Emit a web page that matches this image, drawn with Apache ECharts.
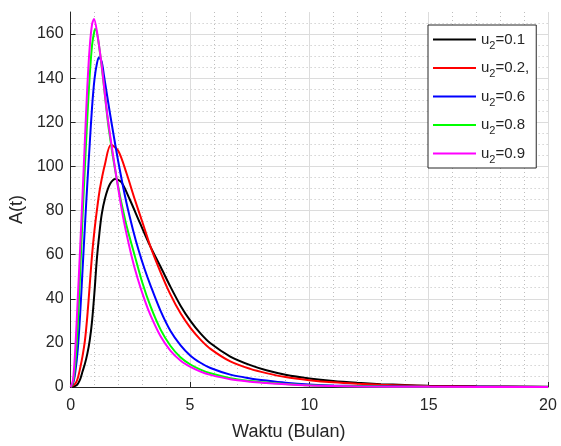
<!DOCTYPE html>
<html>
<head>
<meta charset="utf-8">
<script src="https://cdn.jsdelivr.net/npm/echarts@6/dist/echarts.min.js"></script>
<style>
  html, body { margin: 0; padding: 0; background: #ffffff; }
  #chart { width: 561px; height: 446px; }
</style>
</head>
<body>
<div id="chart"></div>
<script>
// A(t) over time (months) for several values of u2: [t, A] pairs
const curveU01 = [[0,0],[0.25,0.8],[0.4,3.5],[0.5,7],[0.6,10.5],[0.7,15],[0.8,21],[0.9,30],[1.0,43],[1.1,58],[1.2,69],[1.3,78],[1.44,85.5],[1.65,92],[1.88,94.3],[2.13,92.8],[2.48,85],[2.9,74.5],[3.35,63.5],[3.77,54.5],[4.18,45.5],[4.6,37],[5.02,30],[5.44,24.3],[5.86,19.8],[6.69,13.8],[7.53,9.9],[8.2,7.6],[9,5.6],[10,3.9],[11,2.7],[12,1.9],[13,1.3],[14,0.9],[15,0.6],[17,0.3],[20,0.1]];
const curveU02 = [[0,0],[0.2,1.5],[0.3,4],[0.4,8.5],[0.5,14],[0.6,21],[0.7,32],[0.8,46],[0.9,60],[1.0,71],[1.1,80],[1.23,90],[1.44,101],[1.69,109.8],[2.0,107],[2.34,97],[2.69,85],[3.03,74],[3.35,63.5],[3.77,52],[4.18,42],[4.6,33.5],[5.02,26.8],[5.44,21.5],[5.86,17.3],[6.69,11.6],[7.53,8.2],[8.2,6.3],[9,4.5],[10,3.1],[11,2.1],[12,1.45],[13,1.0],[14,0.7],[15,0.45],[17,0.2],[20,0.05]];
const curveU06 = [[0,0],[0.1,1.5],[0.2,7],[0.3,17],[0.4,33],[0.5,53],[0.6,73],[0.7,92],[0.8,110],[0.9,127],[1.0,139.5],[1.1,146.5],[1.19,149.5],[1.3,147.5],[1.4,141],[1.65,124],[2.0,102],[2.34,83.5],[2.62,71],[2.85,62],[3.1,53.5],[3.35,46],[3.77,34.5],[4.18,25.5],[4.6,19],[5.02,14.2],[5.44,11],[5.86,8.6],[6.69,5.6],[7.53,3.9],[8.2,2.9],[9,1.9],[10,1.1],[11,0.7],[12,0.45],[13,0.3],[15,0.12],[20,0.02]];
const curveU08 = [[0,0],[0.1,2],[0.2,11],[0.3,28],[0.4,52],[0.5,77],[0.6,100],[0.7,122],[0.8,141],[0.9,155],[1.0,161.5],[1.05,162.3],[1.2,154],[1.37,139],[1.6,117],[1.92,95],[2.3,75],[2.65,61],[3.0,47.5],[3.35,36.5],[3.77,26],[4.18,18.7],[4.6,13.5],[5.02,10.2],[5.44,7.9],[5.86,6.2],[6.69,4],[7.53,2.7],[8.2,2],[9,1.4],[10,0.8],[11,0.5],[12,0.3],[15,0.08],[20,0.01]];
const curveU09 = [[0,0],[0.1,3],[0.2,18],[0.3,40],[0.4,63],[0.5,87],[0.6,112],[0.7,136],[0.8,154],[0.9,164.5],[0.98,166.8],[1.12,160],[1.3,146],[1.53,124],[1.85,100],[2.2,77],[2.54,60],[2.8,49.5],[3.1,39.5],[3.35,32.5],[3.77,23],[4.18,16.5],[4.6,12],[5.02,9.1],[5.44,7],[5.86,5.5],[6.69,3.5],[7.53,2.4],[8.2,1.8],[9,1.2],[10,0.7],[11,0.45],[12,0.28],[15,0.07],[20,0.01]];

const u2Values = ['0.1', '0.2,', '0.6', '0.8', '0.9'];
const curveColors = ['#000000', '#ff0000', '#0000ff', '#00ff00', '#ff00ff'];
const curves = [curveU01, curveU02, curveU06, curveU08, curveU09];

const xTicks = { min: 0, max: 20, step: 5, minorStep: 1 };
const yTicks = { min: 0, max: 170, step: 20, minorStep: 5 };

const FONT = "'Liberation Sans', Arial, Helvetica, sans-serif";
const AXIS_COLOR = '#262626';

const chart = echarts.init(document.getElementById('chart'), null, { renderer: 'canvas' });

const seriesList = curves.map((data, i) => ({
  name: 'u2=' + u2Values[i],
  type: 'line',
  xAxisIndex: 0,
  yAxisIndex: 0,
  data: data,
  symbol: 'none',
  smooth: 0.3,
  lineStyle: { color: curveColors[i], width: 2 },
  itemStyle: { color: curveColors[i] },
  z: 5
}));

const minorGridStyle = { show: true, lineStyle: { color: '#bdbdbd', width: 1, type: [1, 3] } };

chart.setOption({
  backgroundColor: '#ffffff',
  animation: false,
  textStyle: { fontFamily: FONT },
  grid: { left: 70, right: 13, top: 12, bottom: 59, containLabel: false },
  legend: {
    orient: 'vertical',
    left: 428,
    top: 25,
    backgroundColor: '#ffffff',
    borderColor: AXIS_COLOR,
    borderWidth: 1,
    borderRadius: 0,
    padding: [3, 7, 3, 5],
    icon: 'rect',
    itemWidth: 43,
    itemHeight: 2,
    itemGap: 5.5,
    data: seriesList.map(s => s.name),
    formatter: name => '{a|u}{s|2}{a|' + name.slice(2) + '}',
    textStyle: {
      fontFamily: FONT,
      color: AXIS_COLOR,
      rich: {
        a: { fontFamily: FONT, fontSize: 15, color: AXIS_COLOR, lineHeight: 23, verticalAlign: 'middle' },
        s: { fontFamily: FONT, fontSize: 11, color: AXIS_COLOR, lineHeight: 11, padding: [12, 0, 0, 0], verticalAlign: 'top' }
      }
    }
  },
  xAxis: [
    {
      type: 'value', min: xTicks.min, max: xTicks.max, interval: xTicks.step, z: 1,
      name: 'Waktu (Bulan)', nameLocation: 'middle', nameGap: 36,
      nameTextStyle: { fontFamily: FONT, fontSize: 18, color: AXIS_COLOR, padding: [0, 41, 0, 0] },
      axisLine: { show: true, onZero: false, lineStyle: { color: AXIS_COLOR, width: 1 } },
      axisTick: { show: true, inside: true, length: 5, lineStyle: { color: AXIS_COLOR } },
      axisLabel: { fontFamily: FONT, fontSize: 16, color: AXIS_COLOR, margin: 11 },
      splitLine: { show: true, showMinLine: false, lineStyle: { color: '#dcdcdc', width: 1 } }
    },
    {
      type: 'value', min: xTicks.min, max: xTicks.max, interval: xTicks.minorStep, z: 0,
      position: 'bottom',
      axisLine: { show: false }, axisTick: { show: false }, axisLabel: { show: false },
      splitLine: Object.assign({ showMinLine: false, showMaxLine: false }, minorGridStyle)
    }
  ],
  yAxis: [
    {
      type: 'value', min: yTicks.min, max: yTicks.max, interval: yTicks.step, z: 1,
      name: 'A(t)', nameLocation: 'middle', nameGap: 42, nameRotate: 90,
      nameTextStyle: { fontFamily: FONT, fontSize: 18, color: AXIS_COLOR, padding: [0, 20, 0, 0] },
      axisLine: { show: true, onZero: false, lineStyle: { color: AXIS_COLOR, width: 1 } },
      axisTick: { show: true, inside: true, length: 5, lineStyle: { color: AXIS_COLOR } },
      axisLabel: { fontFamily: FONT, fontSize: 16, color: AXIS_COLOR, margin: 7, showMaxLabel: false },
      splitLine: { show: true, showMinLine: false, showMaxLine: false, lineStyle: { color: '#dcdcdc', width: 1 } }
    },
    {
      type: 'value', min: yTicks.min, max: yTicks.max, interval: yTicks.minorStep, z: 0,
      position: 'left',
      axisLine: { show: false }, axisTick: { show: false }, axisLabel: { show: false },
      splitLine: Object.assign({ showMinLine: false, showMaxLine: false }, minorGridStyle)
    }
  ],
  series: seriesList
});
</script>
</body>
</html>
